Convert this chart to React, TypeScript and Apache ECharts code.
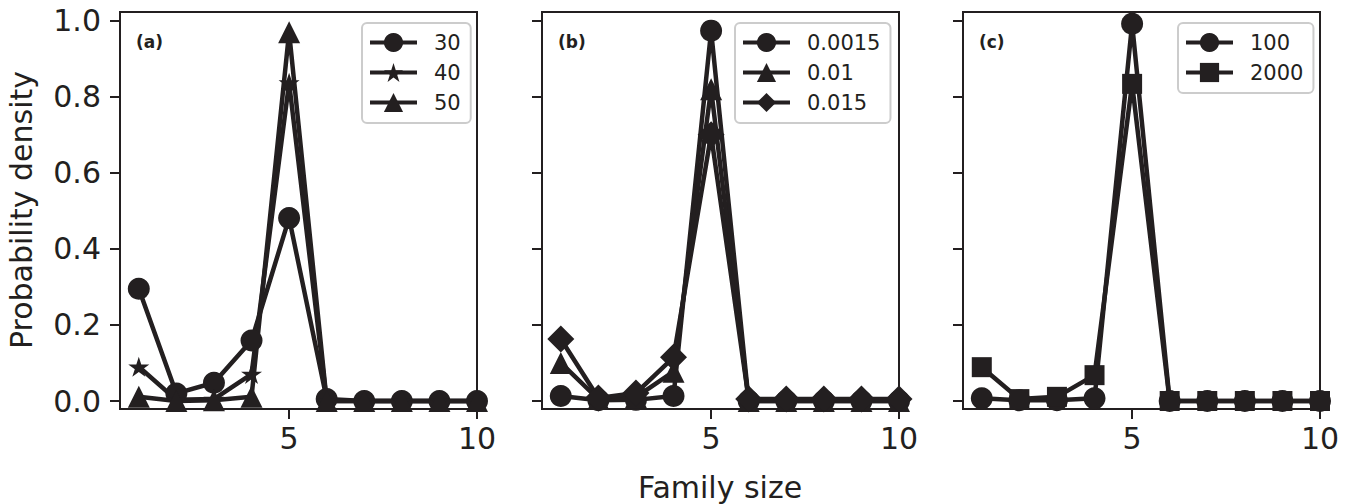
import React, { useEffect, useRef } from "react";
import * as echarts from "echarts";

const xs = [1, 2, 3, 4, 5, 6, 7, 8, 9, 10];

// Panel (a)
const a30 = [0.295, 0.02, 0.048, 0.159, 0.481, 0.005, 0, 0, 0, 0];
const a40 = [0.09, 0.003, 0.005, 0.071, 0.837, 0, 0, 0, 0, 0];
const a50 = [0.011, 0, 0.002, 0.011, 0.97, 0, 0, 0, 0, 0];
// Panel (b)
const b0015 = [0.013, 0.002, 0.003, 0.013, 0.974, 0, 0, 0, 0, 0];
const b001 = [0.1, 0.005, 0.01, 0.077, 0.82, 0, 0, 0, 0, 0];
const b015 = [0.163, 0.008, 0.021, 0.115, 0.7, 0.005, 0.005, 0.005, 0.005, 0.005];
// Panel (c)
const c100 = [0.007, 0.002, 0.002, 0.007, 0.992, 0, 0, 0, 0, 0];
const c2000 = [0.089, 0.005, 0.011, 0.068, 0.834, 0, 0, 0, 0, 0];

const yTicks = [0, 0.2, 0.4, 0.6, 0.8, 1.0];
const xTicks = [5, 10];
const panelLabels = ["(a)", "(b)", "(c)"];

const INK = "#231f20";
const FONT = "DejaVu Sans";
const STAR =
  "path://M0,-1L0.2245,-0.309L0.951,-0.309L0.363,0.118L0.588,0.809L0,0.382L-0.588,0.809L-0.363,0.118L-0.951,-0.309L-0.2245,-0.309Z";

const panels = [
  {
    left: 120,
    series: [
      { name: "30", vals: a30, symbol: "circle", size: 22 },
      { name: "40", vals: a40, symbol: STAR, size: 21 },
      { name: "50", vals: a50, symbol: "triangle", size: 22 },
    ],
    legendLeft: 362,
  },
  {
    left: 542,
    series: [
      { name: "0.0015", vals: b0015, symbol: "circle", size: 22 },
      { name: "0.01", vals: b001, symbol: "triangle", size: 22 },
      { name: "0.015", vals: b015, symbol: "diamond", size: 27 },
    ],
    legendLeft: 735,
  },
  {
    left: 963,
    series: [
      { name: "100", vals: c100, symbol: "circle", size: 22 },
      { name: "2000", vals: c2000, symbol: "rect", size: 20 },
    ],
    legendLeft: 1178,
  },
];

export default function App() {
  const ref = useRef<HTMLDivElement>(null);
  useEffect(() => {
    if (!ref.current) return;
    const chart = echarts.init(ref.current, null, { renderer: "svg" });
    const W = 357;
    const TOP = 12;
    const H = 397;
    const grid = panels.map((p) => ({
      left: p.left,
      top: TOP,
      width: W,
      height: H,
      show: true,
      borderColor: INK,
      borderWidth: 2,
      backgroundColor: "transparent",
      containLabel: false,
    }));
    const xAxis = panels.map((p, i) => ({
      type: "value",
      gridIndex: i,
      min: 0.5,
      max: 10,
      splitLine: { show: false },
      axisLine: { show: true, onZero: false, lineStyle: { color: INK, width: 2 } },
      axisTick: { show: true, length: 10, customValues: xTicks, lineStyle: { color: INK, width: 2 } },
      axisLabel: {
        customValues: xTicks,
        fontSize: 30,
        color: INK,
        fontFamily: FONT,
        margin: 14,
        formatter: (v: number) => String(Math.round(v)),
      },
    }));
    const yAxis = panels.map((p, i) => ({
      type: "value",
      gridIndex: i,
      min: -0.021,
      max: 1.023,
      splitLine: { show: false },
      axisLine: { show: true, onZero: false, lineStyle: { color: INK, width: 2 } },
      axisTick: { show: true, length: 10, customValues: yTicks, lineStyle: { color: INK, width: 2 } },
      axisLabel: {
        show: i === 0,
        customValues: yTicks,
        fontSize: 30,
        color: INK,
        fontFamily: FONT,
        margin: 19,
        formatter: (v: number) => v.toFixed(1),
      },
    }));
    const series: any[] = [];
    panels.forEach((p, i) => {
      p.series.forEach((s) => {
        series.push({
          type: "line",
          name: s.name,
          xAxisIndex: i,
          yAxisIndex: i,
          data: xs.map((x, j) => [x, s.vals[j]]),
          symbol: s.symbol,
          symbolSize: s.size,
          symbolKeepAspect: true,
          showSymbol: true,
          showAllSymbol: true,
          lineStyle: { color: INK, width: 4.5 },
          itemStyle: { color: INK },
          emphasis: { disabled: true },
        });
      });
    });
    const legend = panels.map((p) => ({
      data: p.series.map((s) => s.name),
      left: p.legendLeft,
      top: 23,
      orient: "vertical",
      itemWidth: 47,
      itemHeight: 24,
      itemGap: 9,
      padding: [9, 10, 10, 6],
      borderColor: "#cccccc",
      borderWidth: 2,
      borderRadius: 5,
      backgroundColor: "#ffffff",
      selectedMode: false,
      lineStyle: { width: 4 },
      textStyle: { fontSize: 21, color: INK, fontFamily: FONT, padding: [0, 0, 0, 12] },
    }));
    const graphic: any[] = [
      {
        type: "text",
        x: 720,
        y: 487,
        style: {
          text: "Family size",
          font: `30px '${FONT}'`,
          fill: INK,
          align: "center",
          verticalAlign: "middle",
        },
      },
      {
        type: "text",
        x: 21,
        y: 210,
        rotation: Math.PI / 2,
        style: {
          text: "Probability density",
          font: `30px '${FONT}'`,
          fill: INK,
          align: "center",
          verticalAlign: "middle",
        },
      },
      ...panels.map((p, i) => ({
        type: "text",
        x: p.left + 16,
        y: 42,
        style: {
          text: panelLabels[i],
          font: `bold 17px '${FONT}'`,
          fill: INK,
          align: "left",
          verticalAlign: "middle",
        },
      })),
    ];
    chart.setOption({
      animation: false,
      backgroundColor: "#ffffff",
      grid,
      xAxis,
      yAxis,
      series,
      legend,
      graphic,
    });
    return () => chart.dispose();
  }, []);
  return (
    <div
      ref={ref}
      style={{ position: "fixed", left: 0, top: 0, width: 1355, height: 504 }}
    />
  );
}
